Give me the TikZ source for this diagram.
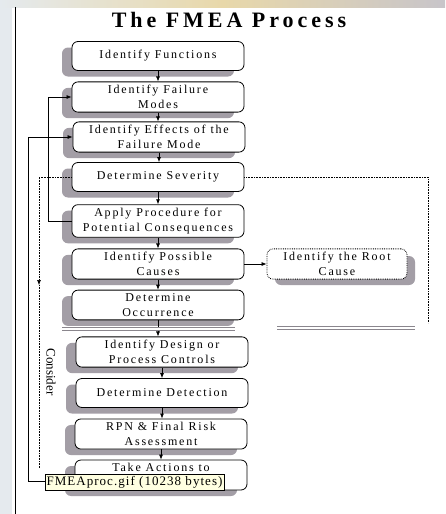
\documentclass[tikz,border=0pt]{standalone}
\usepackage{fontspec}
\setmainfont{Liberation Serif}
\newfontfamily\boxfont[LetterSpace=15]{Liberation Serif}
\newfontfamily\titlefont[LetterSpace=18]{Liberation Serif}
\newfontfamily\tipfont[LetterSpace=8]{Liberation Serif}
\usepackage{tikz}
\usetikzlibrary{arrows.meta}
\usetikzlibrary{shadows}
\usetikzlibrary{positioning,calc}
\definecolor{shadegray}{RGB}{163,158,166}
\definecolor{tipyellow}{RGB}{255,255,225}
\definecolor{sidegray}{RGB}{229,234,238}
\definecolor{bandgold}{RGB}{232,216,170}

\begin{document}
\begin{tikzpicture}[x=1pt,y=-1pt,
    stepbox/.style={draw,line width=0.8pt,fill=white,rounded corners=6pt,
      minimum width=172pt,minimum height=29pt,align=center,
      font=\boxfont\fontsize{12}{15}\selectfont,
      drop shadow={shadow xshift=-10pt,shadow yshift=-6pt,fill=shadegray,opacity=1}},
    rootbox/.style={draw,line width=0.8pt,densely dotted,fill=white,rounded corners=6pt,
      minimum width=140pt,minimum height=28pt,align=center,
      font=\boxfont\fontsize{12}{15}\selectfont},
    flow/.style={line width=0.7pt,-{Latex[length=5pt,width=4pt]}},
    dots/.style={line width=0.6pt,densely dotted},
    rule/.style={shadegray!85!black,line width=0.9pt,double=white,double distance=1.4pt}]
  \useasboundingbox (0,0) rectangle (445,514);
  % screen behind the picture
  \fill[white] (0,0) rectangle (445,514);
  \fill[sidegray] (0,0) rectangle (12,514);
  \shade[left color=sidegray,right color=shadegray!60,middle color=bandgold] (0,0) rectangle (445,7);
  \draw[line width=1pt] (15,7) -- (15,514);

  \node[font=\titlefont\fontsize{22}{24}\selectfont\bfseries] (title) at (229,20) {The FMEA Process};

  % shadow of the root cause box lies to the right
  \path[fill=shadegray,rounded corners=6pt] (275,256) rectangle (415,285);

  \foreach \nm/\x/\y/\txt in {
      func/158/56/{Identify Functions},
      fail/158/97/{Identify Failure\\Modes},
      effects/159/137/{Identify Effects of the\\Failure Mode},
      sev/158/177/{Determine Severity},
      apply/158/221/{Apply Procedure for\\Potential Consequences},
      causes/158/264/{Identify Possible\\Causes},
      occ/158/305/{Determine\\Occurrence},
      design/162/352/{Identify Design or\\Process Controls},
      detect/162/393/{Determine Detection},
      rpn/161/434/{RPN \& Final Risk\\Assessment},
      take/161/475/{Take Actions to\\~}}{
    \node[stepbox] (\nm) at (\x,\y) {\txt};
  }
  \node[rootbox] (root) at (337,264) {Identify the Root\\Cause};

  \foreach \a/\b in {func/fail,fail/effects,effects/sev,sev/apply,apply/causes,
      causes/occ,occ/design,design/detect,detect/rpn,rpn/take}
    \draw[flow] (\a.south) -- (\a.south |- \b.north);
  \draw[flow] (causes) -- (root);

  % grey rules under the occurrence step
  \draw[rule] (62,329) -- (235,329);
  \draw[rule] (277,328) -- (415,328);

  % feedback loops
  \coordinate (loopA) at (48,0);
  \coordinate (loopB) at (28,0);
  \draw[flow] (apply.west) -- (apply.west -| loopA) |- (fail.west);
  \draw[flow] ([yshift=-6pt]take.west) -- ([yshift=-6pt]take.west -| loopB) |- (effects.west);

  % dotted frame round the severity part
  \coordinate (dotA) at (39,285);
  \coordinate (dotB) at (39,468);
  \coordinate (dotC) at (428,323);
  \draw[dots,-{Latex[length=5pt,width=4pt]}] (sev.west) -| (dotA);
  \draw[dots] (dotA) -- (dotB);
  \draw[dots] (sev.east) -| (dotC);
  \node[rotate=-90,font=\fontsize{13}{15}\selectfont] (consider) at (51,372) {Consider};

  \node[draw,fill=tipyellow,inner sep=1.5pt,minimum width=179pt,minimum height=16pt,
        font=\tipfont\fontsize{13}{14}\selectfont] (gif) at (134.5,482) {FMEAproc.gif (10238 bytes)};
\end{tikzpicture}
\end{document}
